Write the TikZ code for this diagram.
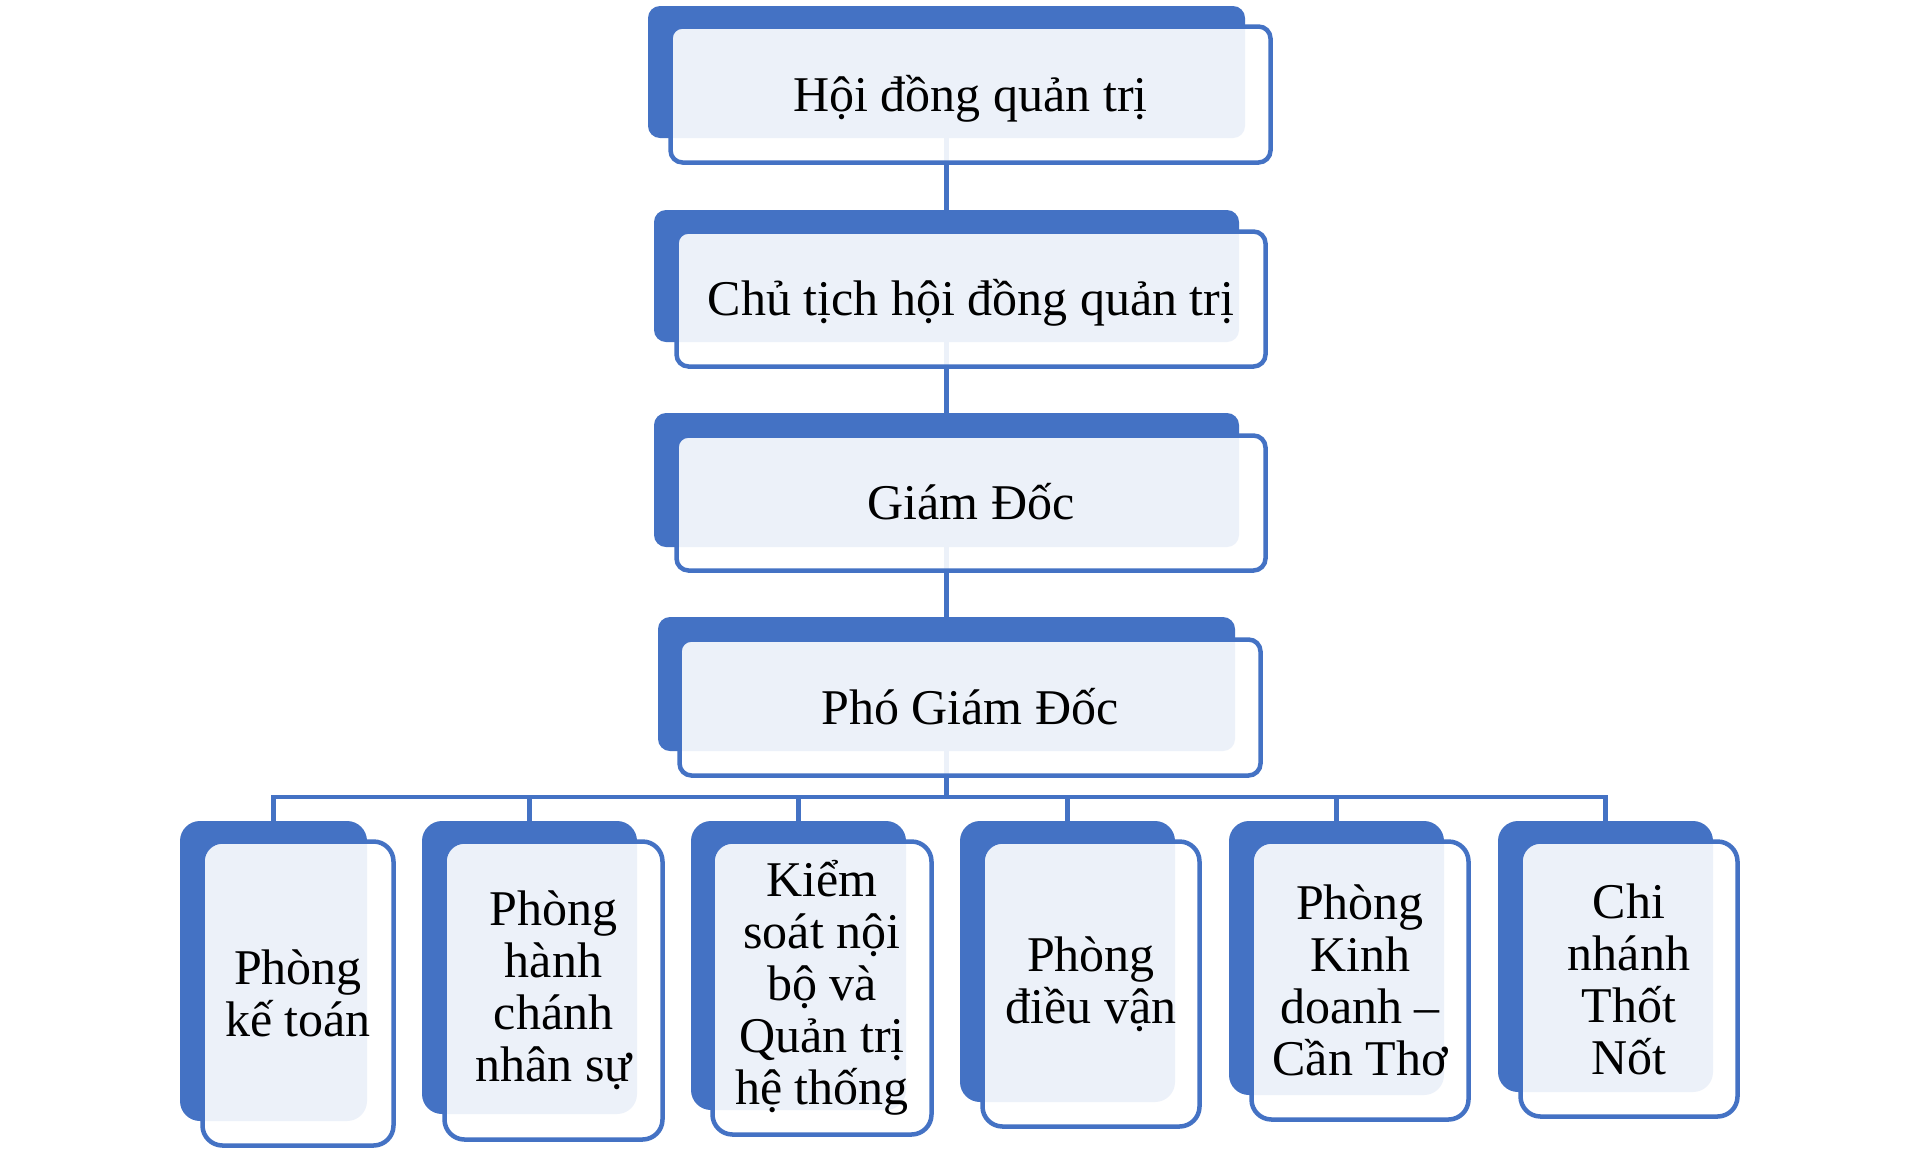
\documentclass[tikz,border=0pt]{standalone}
\usepackage{fontspec}
\setmainfont{Liberation Serif}
\definecolor{acc}{HTML}{4472C4}
\tikzset{
  bk/.style 2 args={rectangle, fill=acc, draw=none, inner sep=0pt, outer sep=0pt,
    minimum width=#1pt, minimum height=#2pt},
  fr/.style 2 args={rectangle, fill=white, fill opacity=0.9, draw=acc, draw opacity=1,
    line width=4.5pt, inner sep=0pt, outer sep=0pt, minimum width=#1pt, minimum height=#2pt},
  lbl/.style={align=center, inner sep=0pt, font=\fontsize{50}{52}\selectfont},
  lbltop/.style={lbl, text height=44pt, text depth=11pt},
  conn/.style={draw=acc, line width=4.5pt},
  rt/.style={rounded corners=12pt},
  rb/.style={rounded corners=20pt},
}
\begin{document}
\begin{tikzpicture}[x=1pt,y=-1pt]
\path[use as bounding box, fill=white] (0,0) rectangle (1917,1149);
% back shapes
\node[bk={597}{132}, rt] (b1) at (946.5,72) {};
\node[bk={585}{132}, rt] (b2) at (946.5,276) {};
\node[bk={585}{134}, rt] (b3) at (946.5,480) {};
\node[bk={577}{134}, rt] (b4) at (946.5,684) {};
\node[bk={187}{300}, rb] (c1) at (273.5,971) {};
\node[bk={215}{293}, rb] (c2) at (529.5,967.5) {};
\node[bk={215}{289}, rb] (c3) at (798.5,965.5) {};
\node[bk={215}{281}, rb] (c4) at (1067.5,961.5) {};
\node[bk={215}{274}, rb] (c5) at (1336.5,958) {};
\node[bk={215}{271}, rb] (c6) at (1605.5,956.5) {};
% connectors
\coordinate (bus) at (946.5,797);
\draw[conn] (b1.south) -- (b2.north);
\draw[conn] (b2.south) -- (b3.north);
\draw[conn] (b3.south) -- (b4.north);
\draw[conn] (b4.south) -- (bus);
\foreach \c in {c1,c2,c3,c4,c5,c6} {\draw[conn] (bus) -| (\c.north);}
% front shapes
\node[fr={600}{136}, rt] (f1) at (970.5,94.5) {};
\node[fr={589}{135}, rt] (f2) at (971,299) {};
\node[fr={589}{135}, rt] (f3) at (971,503) {};
\node[fr={581}{136}, rt] (f4) at (970,707.5) {};
\node[fr={191}{304}, rb] (g1) at (298,993.5) {};
\node[fr={218}{298}, rb] (g2) at (553.5,990.5) {};
\node[fr={219}{293}, rb] (g3) at (822,988) {};
\node[fr={217}{285}, rb] (g4) at (1091,984) {};
\node[fr={217}{278}, rb] (g5) at (1360,980.5) {};
\node[fr={217}{275}, rb] (g6) at (1629,979) {};
% labels
\node[lbltop] (t1) at (f1.center) {Hội đồng quản trị};
\node[lbltop] (t2) at (f2.center) {Chủ tịch hội đồng quản trị};
\node[lbltop] (t3) at (f3.center) {Giám Đốc};
\node[lbltop] (t4) at (f4.center) {Phó Giám Đốc};
\node[lbl] (u1) at (g1.center) {Phòng\\kế toán};
\node[lbl] (u2) at (g2.center) {Phòng\\hành\\chánh\\nhân sự};
\node[lbl] (u3) at (g3.center) {Kiểm\\soát nội\\bộ và\\Quản trị\\hệ thống};
\node[lbl] (u4) at (g4.center) {Phòng\\điều vận};
\node[lbl] (u5) at (g5.center) {Phòng\\Kinh\\doanh –\\Cần Thơ};
\node[lbl] (u6) at (g6.center) {Chi\\nhánh\\Thốt\\Nốt};
\end{tikzpicture}
\end{document}
